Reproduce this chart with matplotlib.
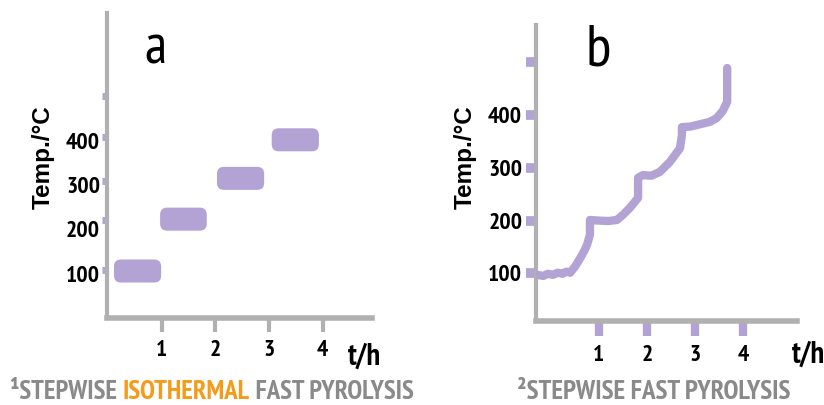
import matplotlib
matplotlib.use("Agg")
import matplotlib.pyplot as plt
from matplotlib.patches import FancyBboxPatch
from matplotlib import font_manager

# ---------------- data ----------------
# panel a : isothermal holds (start time, end time, temperature)
a_start = [0.11, 0.97, 2.03, 3.05]
a_end = [0.99, 1.84, 2.91, 3.93]
a_temp = [106, 223, 315, 402]
a_marks = [108, 220, 310, 409, 500]

# panel b : continuous stepwise heating curve
b_time = [-0.28, -0.15, -0.05, 0.05, 0.15, 0.25, 0.33, 0.41, 0.52, 0.62, 0.70,
          0.76, 0.82, 0.82, 0.97, 1.20, 1.38, 1.52, 1.65, 1.82, 1.82, 1.92,
          2.10, 2.27, 2.48, 2.69, 2.73, 2.73, 2.90, 3.04, 3.31, 3.45, 3.58,
          3.67, 3.67, 3.67]
b_temp = [97, 95, 99, 97, 101, 99, 103, 101, 114, 129, 142,
          154, 173, 201, 200, 199, 201, 212, 224, 243, 281, 286,
          285, 292, 311, 337, 362, 377, 378, 381, 387, 394, 408,
          425, 463, 489]
b_marks = [100, 200, 300, 400, 500]

x_ticks = [1, 2, 3, 4]
x_labels = ["1", "2", "3", "4"]
y_labels = ["100", "200", "300", "400"]

# ---------------- style ----------------
PURPLE = "#b3a3d4"
GRAY = "#b0b0b0"
CAP_GRAY = "#8a8a8a"
ORANGE = "#f59b1a"

names = {f.name for f in font_manager.fontManager.ttflist}
NARROW = next((n for n in ["Liberation Sans Narrow", "Arial Narrow", "PT Sans Narrow",
                           "Roboto Condensed", "Archivo Narrow", "Asap Condensed"]
               if n in names), "Liberation Sans")
FAM = [NARROW, "DejaVu Sans"]
BOLDFAM = ["Liberation Sans", "DejaVu Sans"]

W, H = 824, 405
fig = plt.figure(figsize=(W / 100, H / 100), dpi=100)


def px_axes(l, r, b, t):
    return fig.add_axes([l / W, 1 - b / H, (r - l) / W, (b - t) / H])


def style_axes(ax):
    for s in ("top", "right"):
        ax.spines[s].set_visible(False)
    ax.spines["left"].set_color(GRAY)
    ax.spines["bottom"].set_color(GRAY)
    ax.spines["left"].set_linewidth(3)
    ax.spines["bottom"].set_linewidth(4)
    ax.spines["left"].set_capstyle("projecting")
    ax.spines["bottom"].set_capstyle("projecting")
    ax.set_facecolor("none")


def style_labels(ax):
    for lab in ax.get_xticklabels() + ax.get_yticklabels():
        lab.set_fontfamily(FAM)
        lab.set_fontweight("bold")
        lab.set_fontsize(17)


# ---------------- panel a ----------------
axa = px_axes(107, 372, 318, 13)
style_axes(axa)
axa.set_xlim(-0.02, 4.92)
axa.set_ylim(0, 688)
aspect = (1 / 0.443) / (1 / 53.7)
for x0, x1, t in zip(a_start, a_end, a_temp):
    axa.add_patch(FancyBboxPatch((x0, t - 26), x1 - x0, 52,
                                 boxstyle="round,pad=0,rounding_size=0.13",
                                 mutation_aspect=aspect,
                                 fc=PURPLE, ec="none", zorder=3))
axa.set_xticks(x_ticks, x_labels)
axa.tick_params(axis="x", direction="out", length=10, width=3, color=GRAY, pad=6)
axa.set_yticks(b_marks[:4], y_labels)
axa.tick_params(axis="y", which="major", length=0, pad=5)
axa.set_yticks(a_marks, minor=True)
axa.tick_params(axis="y", which="minor", direction="out", length=3.5, width=5, color=PURPLE)
style_labels(axa)

# ---------------- panel b ----------------
axb = px_axes(536, 797, 321, 25)
style_axes(axb)
axb.set_xlim(-0.30, 5.12)
axb.set_ylim(9.5, 570.6)
axb.plot(b_time, b_temp, color=PURPLE, lw=6, solid_capstyle="round",
         solid_joinstyle="round", zorder=3)
axb.set_xticks(x_ticks, x_labels)
axb.tick_params(axis="x", direction="out", length=11, width=6, color=PURPLE, pad=6)
axb.set_yticks(b_marks, y_labels + [""])
axb.tick_params(axis="y", direction="out", length=7, width=7, color=PURPLE, pad=3)
style_labels(axb)

# ---------------- texts ----------------
fig.text(155 / W, 1 - 63 / H, "a", fontsize=40, family=FAM, ha="center", va="baseline")
fig.text(598 / W, 1 - 65 / H, "b", fontsize=42, family=FAM, ha="center", va="baseline")
for xc in (43, 465):
    fig.text(xc / W, 1 - 157 / H, "Temp./°C", rotation=90, fontsize=17.5,
             fontweight="bold", family=BOLDFAM, ha="center", va="center")
fig.text(364 / W, 1 - 357 / H, "t/h", fontsize=22, family=FAM, fontweight="bold",
         ha="center", va="center")
fig.text(808 / W, 1 - 355 / H, "t/h", fontsize=22, family=FAM, fontweight="bold",
         ha="center", va="center")

renderer = fig.canvas.get_renderer()


def multicolor(x_px, y_px, parts, target_w, size=18):
    # measure the total width, then scale the size to the reference width
    probe = fig.text(0, 0, "".join(s for s, _ in parts), fontsize=size, family=FAM,
                     fontweight="bold")
    w = probe.get_window_extent(renderer).width
    probe.remove()
    size = size * target_w / w
    x = x_px
    for s, c in parts:
        t = fig.text(x / W, 1 - y_px / H, s, color=c, fontsize=size, family=FAM,
                     fontweight="bold", ha="left", va="baseline")
        x += t.get_window_extent(renderer).width


multicolor(10, 399, [("¹STEPWISE ", CAP_GRAY), ("ISOTHERMAL", ORANGE),
                     (" FAST PYROLYSIS", CAP_GRAY)], 402)
multicolor(517, 399, [("²STEPWISE FAST PYROLYSIS", CAP_GRAY)], 274)

fig.savefig("out.png", dpi=100)
